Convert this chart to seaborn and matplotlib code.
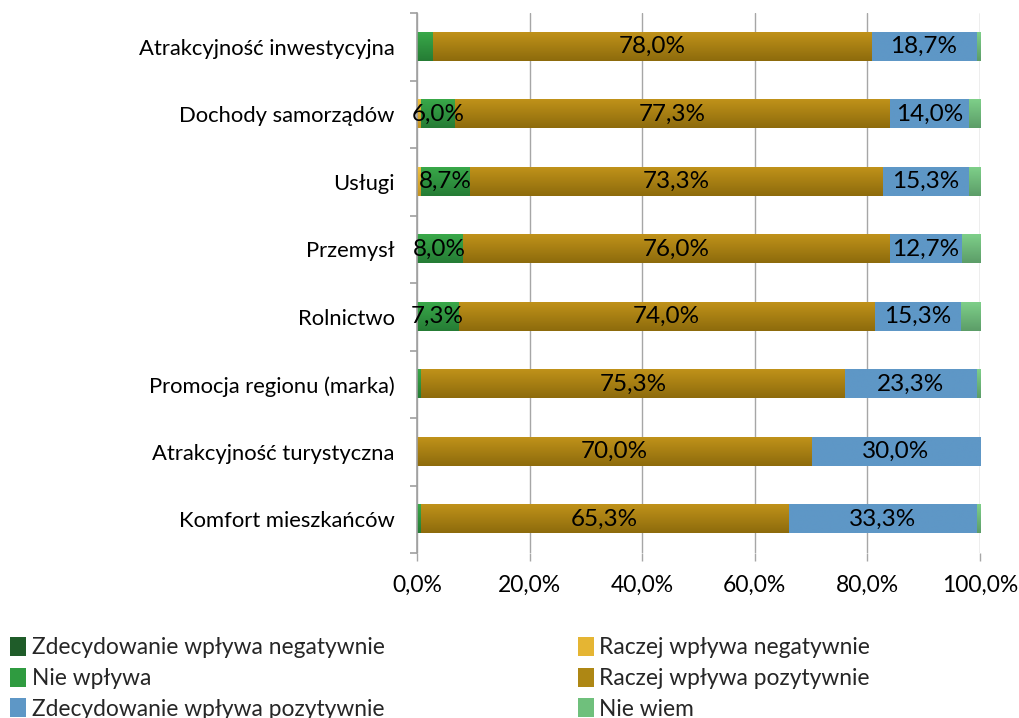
import matplotlib
matplotlib.use("Agg")
import matplotlib.pyplot as plt
import seaborn as sns
import numpy as np
import pandas as pd
from matplotlib.patches import Patch
from matplotlib.colors import to_rgb
from matplotlib.ticker import FuncFormatter, FixedLocator

sns.set_theme(style="white")
plt.rcParams['font.family'] = ['Lato', 'DejaVu Sans']

categories = ["Atrakcyjność inwestycyjna", "Dochody samorządów", "Usługi", "Przemysł",
              "Rolnictwo", "Promocja regionu (marka)", "Atrakcyjność turystyczna",
              "Komfort mieszkańców"]
series_names = ["Zdecydowanie wpływa negatywnie", "Raczej wpływa negatywnie", "Nie wpływa",
                "Raczej wpływa pozytywnie", "Zdecydowanie wpływa pozytywnie", "Nie wiem"]
zdec_neg = [0.0, 0.0, 0.0, 0.0, 0.0, 0.0, 0.0, 0.0]
raczej_neg = [0.0, 0.7, 0.7, 0.0, 0.0, 0.0, 0.0, 0.0]
nie_wplywa = [2.7, 6.0, 8.7, 8.0, 7.3, 0.7, 0.0, 0.7]
raczej_poz = [78.0, 77.3, 73.3, 76.0, 74.0, 75.3, 70.0, 65.3]
zdec_poz = [18.7, 14.0, 15.3, 12.7, 15.3, 23.3, 30.0, 33.3]
nie_wiem = [0.6, 2.0, 2.0, 3.3, 3.4, 0.7, 0.0, 0.7]
x_ticks = [0, 20, 40, 60, 80, 100]

colors = ["#1f5c29", "#e5b533", "#2f9b40", "#ae8714", "#5e97c6", "#6fc07c"]
grad_top = ["#2a7a38", "#efc040", "#39a849", "#c0921a", "#5e97c6", "#7ecf89"]
grad_bot = ["#17451f", "#c29222", "#257c35", "#8d6b0c", "#5e97c6", "#5c9d68"]

series = [zdec_neg, raczej_neg, nie_wplywa, raczej_poz, zdec_poz, nie_wiem]
vals = np.array(series, dtype=float) / 100.0
cum = np.cumsum(vals, axis=0)

fig = plt.figure(figsize=(10.19, 7.18), dpi=100)
ax = fig.add_axes([417/1019, 1-553/718, (980-417)/1019, (553-13)/718])

# stacked layers, drawn from the largest cumulative value downward
n = len(series)
for i in range(n - 1, -1, -1):
    df = pd.DataFrame({"cat": categories, "val": cum[i]})
    before = len(ax.patches)
    z = 3 + (n - i) * 0.1
    sns.barplot(data=df, x="val", y="cat", orient="h", color=colors[i],
                width=0.415, ax=ax, saturation=1, linewidth=0, zorder=z)
    new_patches = ax.patches[before:]
    t = np.array(to_rgb(grad_top[i]))
    b = np.array(to_rgb(grad_bot[i]))
    grad = np.linspace(0, 1, 64)[:, None, None] * (b - t) + t
    grad = np.repeat(grad, 2, axis=1)
    for p in new_patches:
        x0, y0 = p.get_x(), p.get_y()
        w, h = p.get_width(), p.get_height()
        if w <= 0:
            continue
        ax.imshow(grad, extent=(x0, x0 + w, y0 + h, y0), origin="upper",
                  aspect="auto", zorder=z + 0.05, interpolation="bilinear")

# labels
for i in range(n):
    for j, c in enumerate(categories):
        v = vals[i][j]
        if v >= 0.05:
            xc = cum[i][j] - v / 2
            ax.text(xc, j, f"{v*100:.1f}%".replace(".", ","), ha="center", va="center",
                    fontsize=17.5, color="black", zorder=6)

ax.set_xlim(0, 1.0)
ax.set_ylim(len(categories) - 0.5, -0.5)
ax.set_aspect("auto")
ax.xaxis.set_major_locator(FixedLocator([t / 100 for t in x_ticks]))
ax.xaxis.set_major_formatter(FuncFormatter(lambda v, p: f"{v*100:.1f}%".replace(".", ",")))
ax.grid(axis="x", color="#a6a6a6", linewidth=1.0, zorder=0)
ax.grid(axis="y", visible=False)
ax.set_axisbelow(True)
ax.set_xlabel("")
ax.set_ylabel("")
for s in ["top", "right", "bottom"]:
    ax.spines[s].set_visible(False)
ax.spines["left"].set_color("#a0a0a0")
ax.spines["left"].set_linewidth(1.2)
ax.spines["left"].set_zorder(5)
ax.tick_params(axis="x", length=6, color="#a6a6a6", width=1, pad=10, labelsize=16.5, bottom=True)
ax.tick_params(axis="y", length=0, pad=16, labelsize=15.8, left=True)
ax.yaxis.set_minor_locator(FixedLocator(np.arange(-0.5, len(categories), 1.0)))
ax.tick_params(axis="y", which="minor", length=5, color="#a0a0a0", width=1.2, left=True)
for lab in ax.get_xticklabels() + ax.get_yticklabels():
    lab.set_color("black")

order = [0, 2, 4, 1, 3, 5]
handles = [Patch(facecolor=colors[k], edgecolor="none", label=series_names[k]) for k in order]
fig.legend(handles=handles, ncol=2, loc="upper left", bbox_to_anchor=(0.010, 1 - 637/718),
           frameon=False, fontsize=16.4, handlelength=0.7, handleheight=0.9,
           handletextpad=0.25, labelspacing=0.41, columnspacing=8.47, borderaxespad=0,
           borderpad=0)

fig.savefig("out.png", dpi=100)
